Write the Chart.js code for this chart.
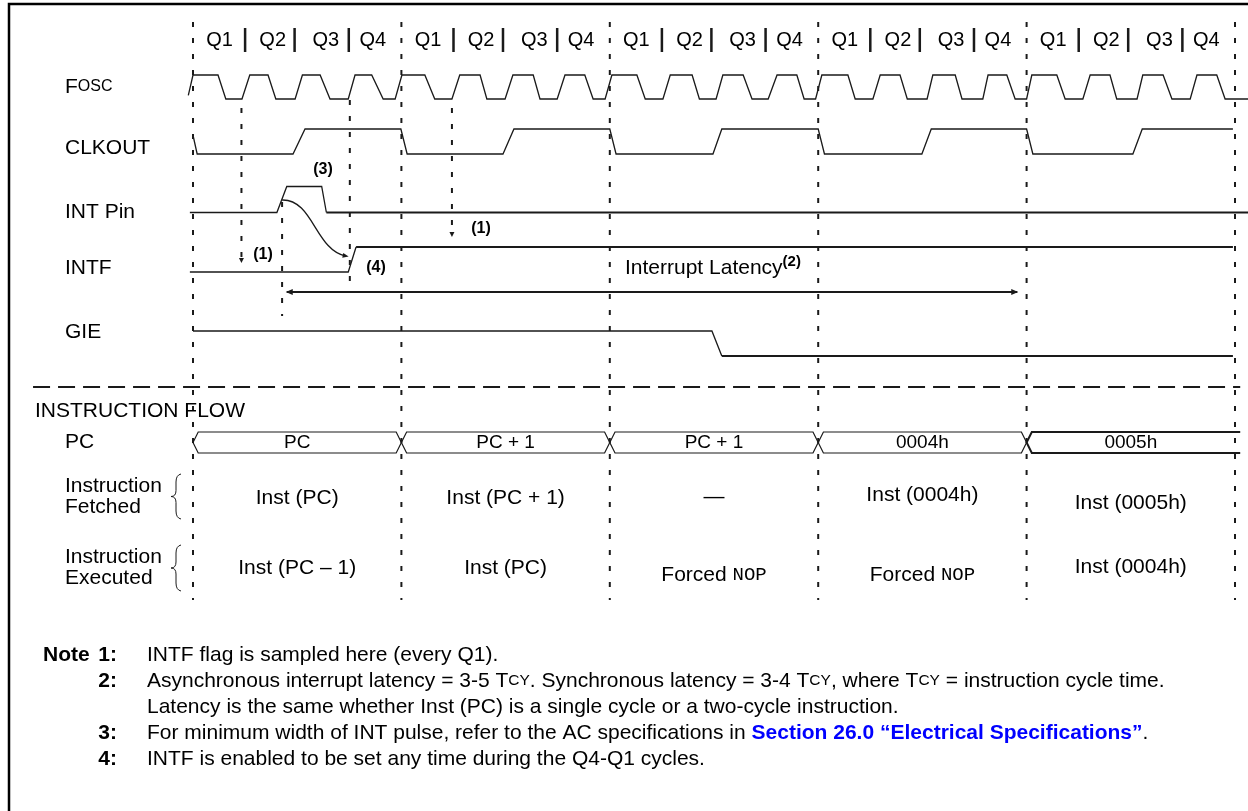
<!DOCTYPE html>
<html>
<head>
<meta charset="utf-8">
<script src="https://cdn.jsdelivr.net/npm/chart.js@4.4.1/dist/chart.umd.min.js"></script>
<style>
  html, body { margin: 0; padding: 0; background: #fff; }
  canvas { display: block; }
</style>
</head>
<body>
<canvas id="timing" width="1248" height="811"></canvas>
<script>
// time axis is in quarter cycles (Q1..Q4), 4 per instruction cycle
// waveforms are [time, level] vertices, level 1 = high, 0 = low
const cycleStarts = [0, 4, 8, 12, 16, 20];
const quarterNames = ['Q1', 'Q2', 'Q3', 'Q4'];
const quarterLabelAt = [0.51, 1.53, 2.55, 3.45];
const quarterBarAt = [1.0, 1.95, 2.99];

const fosc = [
  [-0.09, 0.15], [0.0, 1],
  [0.48, 1], [0.63, 0], [0.94, 0], [1.09, 1],
  [1.44, 1], [1.59, 0], [1.96, 0], [2.10, 1],
  [2.44, 1], [2.63, 0], [2.98, 0], [3.11, 1],
  [3.43, 1], [3.65, 0], [3.88, 0], [4.01, 1],
  [4.45, 1], [4.64, 0], [4.97, 0], [5.12, 1],
  [5.51, 1], [5.64, 0], [5.99, 0], [6.14, 1],
  [6.53, 1], [6.66, 0], [6.99, 0], [7.14, 1],
  [7.52, 1], [7.68, 0], [7.91, 0], [8.04, 1],
  [8.52, 1], [8.68, 0], [9.02, 0], [9.16, 1],
  [9.58, 1], [9.72, 0], [10.04, 0], [10.17, 1],
  [10.56, 1], [10.73, 0], [11.04, 0], [11.21, 1],
  [11.59, 1], [11.73, 0], [11.95, 0], [12.07, 1],
  [12.57, 1], [12.71, 0], [13.05, 0], [13.19, 1],
  [13.57, 1], [13.71, 0], [14.09, 0], [14.20, 1],
  [14.63, 1], [14.76, 0], [15.16, 0], [15.26, 1],
  [15.62, 1], [15.78, 0], [16.00, 0], [16.10, 1],
  [16.58, 1], [16.74, 0], [17.08, 0], [17.22, 1],
  [17.60, 1], [17.73, 0], [18.12, 0], [18.23, 1],
  [18.62, 1], [18.79, 0], [19.14, 0], [19.27, 1],
  [19.65, 1], [19.81, 0], [20.25, 0]
];
const clkout = [
  [0, 0.75], [0.08, 0], [1.92, 0], [2.15, 1], [3.99, 1],
  [4.11, 0], [5.95, 0], [6.16, 1], [8.0, 1],
  [8.12, 0], [9.98, 0], [10.15, 1], [12.0, 1],
  [12.12, 0], [13.99, 0], [14.17, 1], [16.0, 1],
  [16.12, 0], [18.04, 0], [18.22, 1], [19.96, 1]
];
const intPin = [[-0.06, 0], [1.61, 0], [1.80, 1], [2.47, 1], [2.56, 0], [20.25, 0]];
const intf = [[-0.06, 0], [2.98, 0], [3.13, 1], [19.96, 1]];
const gie = [[0, 1], [9.96, 1], [10.15, 0], [19.96, 0]];

const sampleQ1 = [0.93, 4.97];          // note (1) arrows
const intEdgeMarks = [1.71, 3.01];      // dashed marks at INT edge / INTF set
const latency = [1.80, 15.82];

const pcValues = ['PC', 'PC + 1', 'PC + 1', '0004h', '0005h'];
const fetched = ['Inst (PC)', 'Inst (PC + 1)', '\u2014', 'Inst (0004h)', 'Inst (0005h)'];
const executed = ['Inst (PC \u2013 1)', 'Inst (PC)', 'Forced NOP', 'Forced NOP', 'Inst (0004h)'];

// ---- layout ----
const X0 = 193, QW = 52.1;
const SANS = "'Liberation Sans', Arial, sans-serif";
const MONO = "'Liberation Mono', 'Courier New', monospace";
const INK = '#1a1a1a';
const rows = {
  fosc:   { label: 87,  hi: 75,    lo: 99 },
  clkout: { label: 148, hi: 129,   lo: 154 },
  intPin: { label: 212, hi: 186.5, lo: 212.5 },
  intf:   { label: 268, hi: 247,   lo: 272 },
  gie:    { label: 332, hi: 331,   lo: 356 }
};
const BUS = { top: 432, bot: 453, d: 0.1 };

function wave(pts, row) {
  return pts.map(([t, v]) => ({ x: t, y: row.lo - v * (row.lo - row.hi) }));
}
function ds(data, width, dash) {
  return { data, borderColor: INK, borderWidth: width, borderDash: dash || [],
           pointRadius: 0, tension: 0, fill: false, spanGaps: false, clip: false };
}
function splitAt(pts, t) {
  return [pts.filter(p => p[0] <= t), pts.filter(p => p[0] >= t)];
}

const datasets = [];
datasets.push(ds(wave(fosc, rows.fosc), 1.3));
datasets.push(ds(wave(clkout, rows.clkout), 1.3));
let [a, b] = splitAt(intPin, 2.56);
datasets.push(ds(wave(a, rows.intPin), 1.3), ds(wave(b, rows.intPin), 2.2));
[a, b] = splitAt(intf, 3.13);
datasets.push(ds(wave(a, rows.intf), 1.3), ds(wave(b, rows.intf), 2.2));
[a, b] = splitAt(gie, 10.15);
datasets.push(ds(wave(a, rows.gie), 1.3), ds(wave(b, rows.gie), 2.2));

// cycle boundary dashed lines
datasets.push(ds(cycleStarts.flatMap(t => [{ x: t, y: 22 }, { x: t, y: 600 }, { x: t, y: null }]), 2, [5, 11]));
// sampling marks
datasets.push(ds([
  { x: sampleQ1[0], y: 108 }, { x: sampleQ1[0], y: 258 }, { x: sampleQ1[0], y: null },
  { x: sampleQ1[1], y: 108 }, { x: sampleQ1[1], y: 232 }, { x: sampleQ1[1], y: null },
  { x: intEdgeMarks[0], y: 202 }, { x: intEdgeMarks[0], y: 316 }, { x: intEdgeMarks[0], y: null },
  { x: intEdgeMarks[1], y: 100 }, { x: intEdgeMarks[1], y: 289 }
], 2, [5, 11]));
// Q separators
datasets.push(ds(cycleStarts.slice(0, 5).flatMap(c => quarterBarAt.flatMap(q =>
  [{ x: c + q, y: 28 }, { x: c + q, y: 52 }, { x: c + q, y: null }])), 2.5));
// latency arrow shaft
datasets.push(ds([{ x: latency[0], y: 292 }, { x: latency[1], y: 292 }], 2.2));
// section separator
datasets.push(ds([{ x: -3.07, y: 387 }, { x: 20.1, y: 387 }], 2, [17, 8]));
// PC bus
const mid = (BUS.top + BUS.bot) / 2;
pcValues.forEach((v, i) => {
  const s = cycleStarts[i], e = cycleStarts[i + 1], d = BUS.d;
  const last = i === pcValues.length - 1;
  const pts = last
    ? [{ x: 20.1, y: BUS.top }, { x: s + d, y: BUS.top }, { x: s, y: mid }, { x: s + d, y: BUS.bot }, { x: 20.1, y: BUS.bot }]
    : [{ x: s, y: mid }, { x: s + d, y: BUS.top }, { x: e - d, y: BUS.top }, { x: e, y: mid },
       { x: e - d, y: BUS.bot }, { x: s + d, y: BUS.bot }, { x: s, y: mid }];
  datasets.push(ds(pts, last ? 2 : 1.2));
});

function runs(ctx, x, y, parts, align) {
  let w = 0;
  parts.forEach(p => { ctx.font = p[1]; w += ctx.measureText(p[0]).width; });
  let cx = align === 'center' ? x - w / 2 : align === 'right' ? x - w : x;
  parts.forEach(p => {
    ctx.font = p[1]; ctx.fillStyle = p[2] || '#000';
    ctx.fillText(p[0], cx, y);
    cx += ctx.measureText(p[0]).width;
  });
}
function head(ctx, x, y, ang, len, half) {
  ctx.save(); ctx.translate(x, y); ctx.rotate(ang);
  ctx.beginPath(); ctx.moveTo(0, 0); ctx.lineTo(-len, -half); ctx.lineTo(-len, half); ctx.closePath();
  ctx.fillStyle = INK; ctx.fill(); ctx.restore();
}
function brace(ctx, x, y0, y1) {
  const m = (y0 + y1) / 2;
  ctx.beginPath();
  ctx.moveTo(x + 5, y0);
  ctx.quadraticCurveTo(x, y0 + 1, x, y0 + 8);
  ctx.lineTo(x, m - 6);
  ctx.quadraticCurveTo(x, m, x - 5, m);
  ctx.quadraticCurveTo(x, m, x, m + 6);
  ctx.lineTo(x, y1 - 8);
  ctx.quadraticCurveTo(x, y1 - 1, x + 5, y1);
  ctx.lineWidth = 1; ctx.strokeStyle = INK; ctx.stroke();
}

const decor = {
  id: 'decor',
  afterDatasetsDraw(chart) {
    const ctx = chart.ctx, X = v => chart.scales.x.getPixelForValue(v);
    ctx.save();
    // frame
    ctx.strokeStyle = '#000'; ctx.lineWidth = 2.5;
    ctx.beginPath(); ctx.moveTo(9, 811); ctx.lineTo(9, 4); ctx.lineTo(1248, 4); ctx.stroke();
    ctx.textBaseline = 'middle'; ctx.textAlign = 'left';
    const F = s => s + 'px ' + SANS, B = s => 'bold ' + s + 'px ' + SANS;
    const L = F(21);

    cycleStarts.slice(0, 5).forEach(c => quarterNames.forEach((q, i) =>
      runs(ctx, X(c + quarterLabelAt[i]), 40, [[q, F(20)]], 'center')));

    runs(ctx, 65, rows.fosc.label, [['F', L], ['OSC', F(16)]]);
    runs(ctx, 65, rows.clkout.label, [['CLKOUT', L]]);
    runs(ctx, 65, rows.intPin.label, [['INT Pin', L]]);
    runs(ctx, 65, rows.intf.label, [['INTF', L]]);
    runs(ctx, 65, rows.gie.label, [['GIE', L]]);

    runs(ctx, 323, 170, [['(3)', B(16)]], 'center');
    runs(ctx, 263, 255, [['(1)', B(16)]], 'center');
    runs(ctx, 376, 268, [['(4)', B(16)]], 'center');
    runs(ctx, 481, 229, [['(1)', B(16)]], 'center');
    runs(ctx, 625, 268, [['Interrupt Latency', F(21)]]);
    ctx.font = F(21);
    runs(ctx, 625 + ctx.measureText('Interrupt Latency').width, 262, [['(2)', B(15)]]);

    // arrowheads
    head(ctx, X(sampleQ1[0]), 263, Math.PI / 2, 5, 2.5);
    head(ctx, X(sampleQ1[1]), 237, Math.PI / 2, 5, 2.5);
    head(ctx, X(latency[0]) - 1, 292, Math.PI, 7, 3);
    head(ctx, X(latency[1]) + 1, 292, 0, 7, 3);

    // INT -> INTF curved arrow
    const p0 = [X(1.71), 200], p1 = [X(2.3), 199], p2 = [X(2.35), 250], p3 = [X(2.93), 256];
    ctx.beginPath(); ctx.moveTo(...p0); ctx.bezierCurveTo(...p1, ...p2, ...p3);
    ctx.lineWidth = 1.3; ctx.strokeStyle = INK; ctx.stroke();
    head(ctx, p3[0] + 3, p3[1] + 0.6, 0.2, 6, 2.5);

    // instruction flow
    runs(ctx, 35, 411, [['INSTRUCTION FLOW', F(21)]]);
    runs(ctx, 65, 442, [['PC', L]]);
    runs(ctx, 65, 486, [['Instruction', L]]);
    runs(ctx, 65, 507, [['Fetched', L]]);
    runs(ctx, 65, 557, [['Instruction', L]]);
    runs(ctx, 65, 578, [['Executed', L]]);
    brace(ctx, 176, 474, 519);
    brace(ctx, 176, 545, 591);

    const fetchDy = [0, 0, -1, -3, 5], execDy = [0, 0, 7, 7, -1];
    const I = F(21);
    pcValues.forEach((v, i) => {
      const cx = X(cycleStarts[i] + 2);
      runs(ctx, cx, 443, [[v, F(19)]], 'center');
      runs(ctx, cx, 498 + fetchDy[i], [[fetched[i], I]], 'center');
      const e = executed[i];
      const parts = e.startsWith('Forced') ? [['Forced ', I], ['NOP', '19px ' + MONO]] : [[e, I]];
      runs(ctx, cx, 568 + execDy[i], parts, 'center');
    });

    // notes
    const N = F(21), T = [['T', N], ['CY', F(15.5)]];
    const notes = [
      ['1:', [['INTF flag is sampled here (every Q1).', N]]],
      ['2:', [['Asynchronous interrupt latency = 3-5 ', N], ...T, ['. Synchronous latency = 3-4 ', N], ...T,
              [', where ', N], ...T, [' = instruction cycle time.', N]]],
      ['',   [['Latency is the same whether Inst (PC) is a single cycle or a two-cycle instruction.', N]]],
      ['3:', [['For minimum width of INT pulse, refer to the AC specifications in ', N],
              ['Section 26.0 \u201cElectrical Specifications\u201d', B(21), '#0000ff'], ['.', N]]],
      ['4:', [['INTF is enabled to be set any time during the Q4-Q1 cycles.', N]]]
    ];
    runs(ctx, 43, 655, [['Note', B(21)]]);
    notes.forEach((n, i) => {
      const y = 655 + i * 26;
      if (n[0]) runs(ctx, 117, y, [[n[0], B(21)]], 'right');
      runs(ctx, 147, y, n[1]);
    });
    ctx.restore();
  }
};

new Chart(document.getElementById('timing'), {
  type: 'line',
  data: { datasets },
  options: {
    responsive: false,
    animation: false,
    devicePixelRatio: 1,
    events: [],
    layout: { padding: 0 },
    plugins: { legend: { display: false }, tooltip: { enabled: false } },
    scales: {
      x: { type: 'linear', display: false, min: -X0 / QW, max: (1248 - X0) / QW },
      y: { type: 'linear', display: false, min: 0, max: 811, reverse: true }
    }
  },
  plugins: [decor]
});
</script>
</body>
</html>
